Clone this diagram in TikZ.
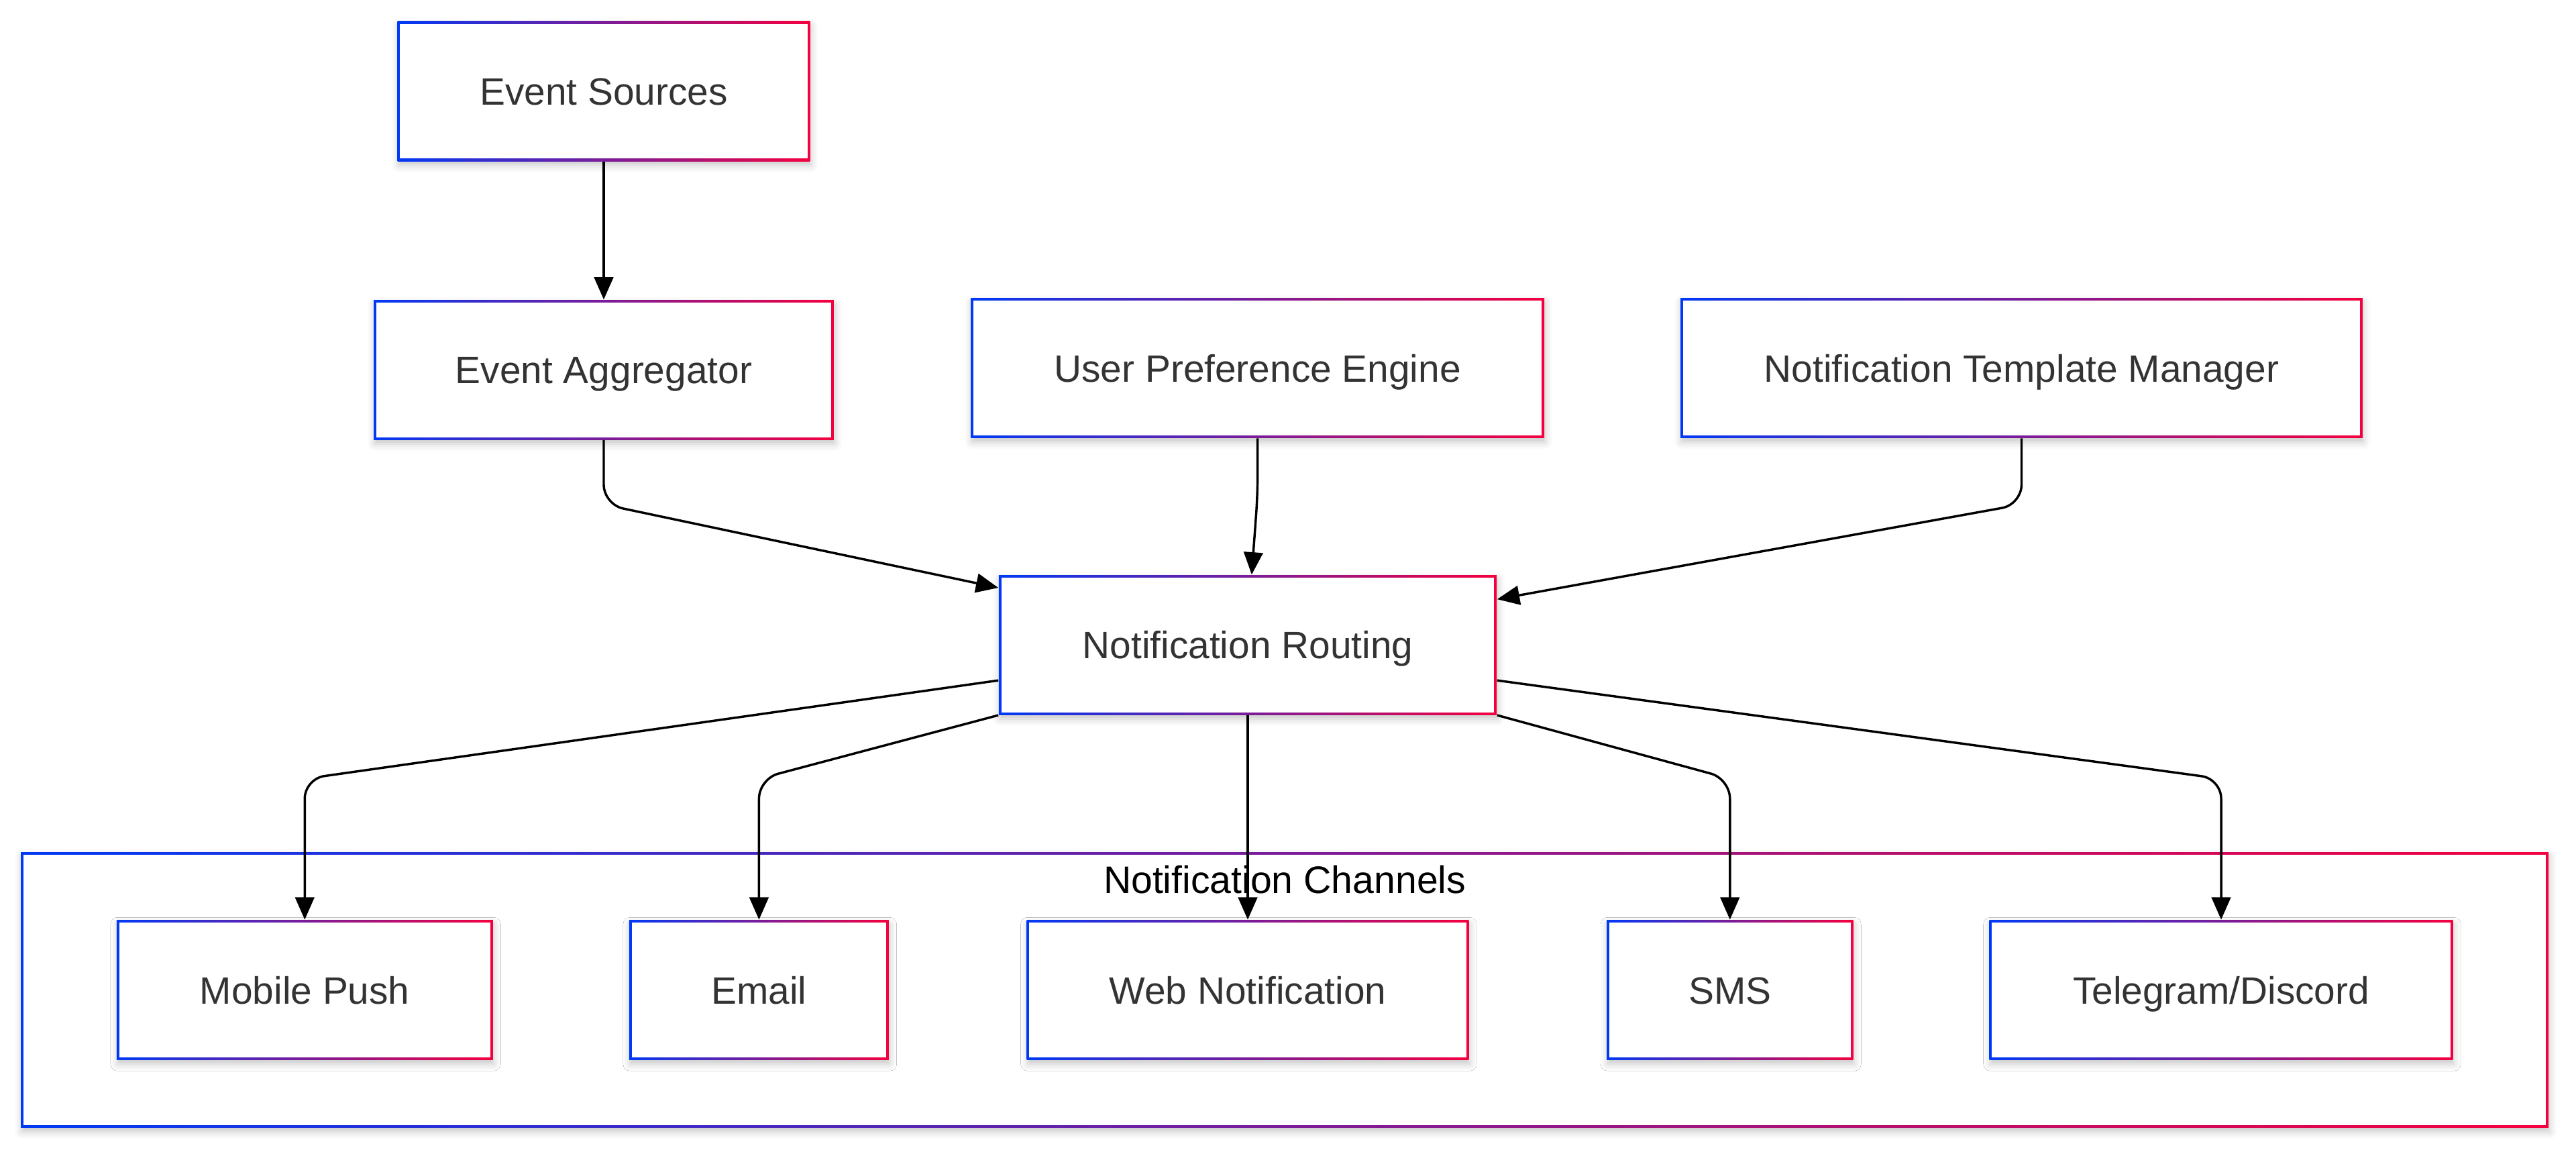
\documentclass[tikz,border=0pt]{standalone}
\usepackage{fontspec}
\setmainfont{Liberation Sans}
\usetikzlibrary{positioning,arrows.meta,fit,backgrounds,shadows.blur}
\definecolor{gblue}{HTML}{0039F5}
\definecolor{gred}{HTML}{F5003F}
\definecolor{txtgray}{HTML}{333333}
\tikzset{
     block/.style={rectangle, left color=gblue, right color=gred, text=txtgray,
                   minimum height=2.125cm, inner sep=0pt,
                   text height=15.5pt, text depth=3.6pt,
                   font=\fontsize{16.5}{20}\selectfont,
                   blur shadow={shadow xshift=0.4pt, shadow yshift=-1.8pt,
                                shadow blur radius=3pt, shadow opacity=22},
                   path picture={\fill[white]
                     ([shift={(1.1pt,1.1pt)}]path picture bounding box.south west) rectangle
                     ([shift={(-1.1pt,-1.1pt)}]path picture bounding box.north east);}},
     group/.style={block, minimum height=0pt, inner xsep=1.45cm, inner ysep=1.025cm},
     arrow/.style={draw, line width=1pt, rounded corners=0.3cm,
                   -{Triangle[length=0.34cm,width=0.29cm]}}
     }

\begin{document}
\begin{tikzpicture}[x=0.025cm, y=-0.025cm]
    \useasboundingbox (0,0) rectangle (1568,702);
    \node [block, minimum width=6.275cm] (src) at (367.5,55.5) {Event Sources};
    \node [block, minimum width=7cm, below=2.1cm of src] (agg) {Event Aggregator};
    \node [block, minimum width=8.725cm] (pref) at (765.5,224) {User Preference Engine};
    \node [block, minimum width=10.375cm] (tmpl) at (1230.5,224) {Notification Template Manager};
    \node [block, minimum width=7.575cm] (route) at (759.5,392.5) {Notification Routing};

    \node [block, minimum width=5.725cm] (push) at (185.5,602.5) {Mobile Push};
    \node [block, minimum width=3.95cm] (mail) at (462,602.5) {Email};
    \node [block, minimum width=6.725cm] (web) at (759.5,602.5) {Web Notification};
    \node [block, minimum width=3.75cm] (sms) at (1053,602.5) {SMS};
    \node [block, minimum width=7.05cm] (tg) at (1352,602.5) {Telegram/Discord};

    \begin{scope}[on background layer]
    \node [group, fit=(push)(tg),
           label={[anchor=north, yshift=-0.08cm, text=black, font=\fontsize{16.6}{20}\selectfont]north:Notification Channels}] (chan) {};
    \end{scope}

    \coordinate (merge) at (0,307);
    \coordinate (split) at (0,474);

    \draw [arrow] (src) -- (agg);
    \draw [arrow] (agg.south) -- (agg.south |- merge) -- ([yshift=-0.2cm]route.north west);
    \draw [arrow] (pref.south) -- ([yshift=0.15cm]pref.south |- merge) -- ([xshift=0.06cm]route.north);
    \draw [arrow] (tmpl.south) -- (tmpl.south |- merge) -- ([yshift=-0.375cm]route.north east);

    \draw [arrow] ([yshift=-0.54cm]route.west) -- (push.north |- split) -- (push.north);
    \draw [arrow] (route.south west) -- (mail.north |- split) -- (mail.north);
    \draw [arrow] (route.south) -- (web.north);
    \draw [arrow] (route.south east) -- (sms.north |- split) -- (sms.north);
    \draw [arrow] ([yshift=-0.54cm]route.east) -- (tg.north |- split) -- (tg.north);
\end{tikzpicture}
\end{document}
